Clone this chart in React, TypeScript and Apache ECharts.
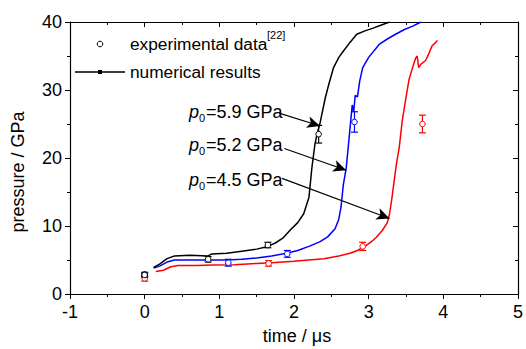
import React, { useEffect, useRef } from "react";
import * as echarts from "echarts";

const xTicks = [-1, 0, 1, 2, 3, 4, 5];
const yTicks = [0, 10, 20, 30, 40];

const blackSim: [number, number][] = [
  [0.12, 3.9], [0.2, 4.4], [0.3, 5.2], [0.4, 5.6], [0.6, 5.7], [0.85, 5.6], [0.9, 5.9], [1.1, 6.0],
  [1.3, 6.3], [1.5, 6.6], [1.65, 7.0], [1.75, 7.5], [1.85, 8.2], [1.95, 9.4], [2.05, 10.5], [2.13, 11.8],
  [2.2, 14.2], [2.24, 18.6], [2.28, 22.0], [2.31, 23.6], [2.35, 25.2], [2.42, 28.9], [2.47, 31.0],
  [2.53, 33.3], [2.6, 34.8], [2.66, 35.7], [2.75, 37.0], [2.84, 38.2], [2.95, 38.7], [3.06, 39.1],
  [3.18, 39.6], [3.28, 40.0]
];
const blueSim: [number, number][] = [
  [0.12, 3.8], [0.2, 4.1], [0.3, 4.7], [0.4, 5.0], [0.6, 5.0], [0.85, 5.0], [1.1, 5.0], [1.3, 5.1],
  [1.5, 5.3], [1.7, 5.6], [1.9, 6.0], [2.05, 6.4], [2.2, 7.0], [2.35, 7.7], [2.45, 8.4], [2.55, 9.6],
  [2.6, 11.0], [2.63, 12.8], [2.66, 16.0], [2.7, 18.6], [2.73, 22.0], [2.76, 25.5], [2.78, 27.8],
  [2.8, 26.8], [2.82, 29.2], [2.85, 29.0], [2.88, 31.3], [2.92, 33.3], [3.0, 34.8], [3.14, 36.7],
  [3.25, 37.5], [3.36, 38.2], [3.48, 38.9], [3.59, 39.4], [3.7, 40.0]
];
const redSim: [number, number][] = [
  [0.15, 3.3], [0.25, 3.5], [0.35, 4.0], [0.45, 4.2], [0.7, 4.2], [0.9, 4.25], [1.2, 4.3], [1.5, 4.5],
  [1.7, 4.6], [2.0, 4.8], [2.2, 5.0], [2.4, 5.2], [2.6, 5.6], [2.75, 6.0], [2.85, 6.4], [2.95, 7.0],
  [3.05, 7.8], [3.1, 8.3], [3.18, 9.3], [3.25, 10.5], [3.28, 11.8], [3.31, 14.0], [3.34, 16.5],
  [3.37, 19.0], [3.41, 21.6], [3.45, 25.5], [3.5, 28.9], [3.54, 31.5], [3.58, 33.0], [3.63, 34.7],
  [3.65, 35.0], [3.67, 33.3], [3.7, 33.8], [3.76, 34.3], [3.8, 35.2], [3.85, 36.5], [3.9, 37.0],
  [3.92, 37.3]
];

// [time, pressure, error]
const blackExp: [number, number, number][] = [[0, 2.8, 0.3], [0.85, 5.1, 0.4], [1.65, 7.2, 0.4], [2.33, 23.5, 1.3]];
const blueExp: [number, number, number][] = [[0, 2.9, 0.3], [1.12, 4.6, 0.5], [1.91, 5.9, 0.5], [2.81, 25.3, 1.5]];
const redExp: [number, number, number][] = [[0, 2.3, 0.4], [1.66, 4.5, 0.4], [2.92, 7.0, 0.6], [3.72, 25.0, 1.3]];

const annotations = [
  { label: "=5.9 GPa", from: [1.8, 26.6], to: [2.35, 24.7] },
  { label: "=5.2 GPa", from: [1.87, 21.4], to: [2.7, 18.2] },
  { label: "=4.5 GPa", from: [1.84, 17.0], to: [3.28, 11.1] }
];

const FONT = "'Liberation Sans', Arial, sans-serif";

function errSeries(data: [number, number, number][], color: string) {
  return {
    type: "custom",
    xAxisIndex: 0,
    yAxisIndex: 0,
    data,
    z: 5,
    renderItem: (params: any, api: any) => {
      const x = api.value(0), y = api.value(1), e = api.value(2);
      const c = api.coord([x, y]);
      const hi = api.coord([x, y + e]);
      const lo = api.coord([x, y - e]);
      const w = 3.5;
      const ls = { stroke: color, lineWidth: 1.2 };
      return {
        type: "group",
        children: [
          { type: "line", shape: { x1: c[0], y1: hi[1], x2: c[0], y2: lo[1] }, style: ls },
          { type: "line", shape: { x1: c[0] - w, y1: hi[1], x2: c[0] + w, y2: hi[1] }, style: ls },
          { type: "line", shape: { x1: c[0] - w, y1: lo[1], x2: c[0] + w, y2: lo[1] }, style: ls },
          { type: "circle", shape: { cx: c[0], cy: c[1], r: 2.8 }, style: { fill: "#fff", stroke: color, lineWidth: 1 } }
        ]
      };
    }
  };
}

function lineSeries(data: [number, number][], color: string, extra: any = {}) {
  return {
    type: "line",
    xAxisIndex: 0,
    yAxisIndex: 0,
    data,
    showSymbol: false,
    symbol: "none",
    lineStyle: { color, width: 1.5 },
    itemStyle: { color },
    z: 3,
    ...extra
  };
}

export default function App() {
  const ref = useRef<HTMLDivElement>(null);
  useEffect(() => {
    if (!ref.current) return;
    const chart = echarts.init(ref.current, null, { renderer: "svg" });
    const axisCommon = {
      type: "value",
      axisLine: { show: true, onZero: false, lineStyle: { color: "#000", width: 1.2 } },
      splitLine: { show: false },
      minorTick: { show: true, splitNumber: 2, length: 3, lineStyle: { color: "#000", width: 1 } }
    };
    const annGraphics: any[] = [];
    const annY = [112, 145, 180];
    annotations.forEach((a, i) => {
      annGraphics.push(
        { type: "text", x: 189, y: annY[i], style: { text: "p", font: `italic 18px ${FONT}`, fill: "#000", verticalAlign: "middle" } },
        { type: "text", x: 199, y: annY[i] + 6, style: { text: "0", font: `11px ${FONT}`, fill: "#000", verticalAlign: "middle" } },
        { type: "text", x: 206, y: annY[i], style: { text: a.label, font: `18px ${FONT}`, fill: "#000", verticalAlign: "middle" } }
      );
    });
    const option: any = {
      animation: false,
      grid: { left: 70, right: 2, top: 22, bottom: 55, containLabel: false },
      xAxis: [
        {
          ...axisCommon,
          position: "bottom",
          min: -1, max: 5, interval: 1,
          axisTick: { show: true, inside: false, length: 5, lineStyle: { color: "#000", width: 1 } },
          axisLabel: { color: "#000", fontSize: 18, fontFamily: FONT, margin: 9 }
        },
        {
          ...axisCommon,
          position: "top",
          min: -1, max: 5, interval: 1,
          axisTick: { show: true, inside: true, length: 5, lineStyle: { color: "#000", width: 1 } },
          axisLabel: { show: false }
        }
      ],
      yAxis: [
        {
          ...axisCommon,
          position: "left",
          min: 0, max: 40, interval: 10,
          axisTick: { show: true, inside: false, length: 5, lineStyle: { color: "#000", width: 1 } },
          axisLabel: { color: "#000", fontSize: 18, fontFamily: FONT, margin: 8 }
        },
        {
          ...axisCommon,
          position: "right",
          min: 0, max: 40, interval: 10,
          axisTick: { show: true, inside: true, length: 5, lineStyle: { color: "#000", width: 1 } },
          axisLabel: { show: false }
        }
      ],
      series: [
        lineSeries(redSim, "#ff0000"),
        lineSeries(blueSim, "#0000ff"),
        lineSeries(blackSim, "#000000", {
          markLine: {
            silent: true,
            symbol: ["none", "arrow"],
            symbolSize: [9, 13],
            label: { show: false },
            lineStyle: { color: "#000", width: 1.2, type: "solid" },
            data: annotations.map((a) => [{ coord: a.from }, { coord: a.to }])
          }
        }),
        errSeries(redExp, "#ff0000"),
        errSeries(blueExp, "#0000ff"),
        errSeries(blackExp, "#000000")
      ],
      graphic: [
        { type: "circle", shape: { cx: 100, cy: 44, r: 2.8 }, style: { fill: "#fff", stroke: "#000", lineWidth: 1 } },
        { type: "text", x: 130, y: 44, style: { text: "experimental data", font: `17.3px ${FONT}`, fill: "#000", verticalAlign: "middle" } },
        { type: "text", x: 267, y: 35, style: { text: "[22]", font: `11px ${FONT}`, fill: "#000", verticalAlign: "middle" } },
        { type: "line", shape: { x1: 75, y1: 72, x2: 125, y2: 72 }, style: { stroke: "#000", lineWidth: 1.5 } },
        { type: "rect", shape: { x: 98, y: 70, width: 4, height: 4 }, style: { fill: "#000" } },
        { type: "text", x: 130, y: 72, style: { text: "numerical results", font: `17.3px ${FONT}`, fill: "#000", verticalAlign: "middle" } },
        { type: "text", x: 297, y: 336, style: { text: "time / μs", font: `18px ${FONT}`, fill: "#000", align: "center", verticalAlign: "middle" } },
        { type: "text", x: 18, y: 172, rotation: Math.PI / 2, style: { text: "pressure / GPa", font: `18px ${FONT}`, fill: "#000", align: "center", verticalAlign: "middle" } },
        ...annGraphics
      ]
    };
    chart.setOption(option);
    return () => chart.dispose();
  }, []);
  return <div ref={ref} style={{ position: "absolute", left: 0, top: 0, width: 526, height: 349 }} />;
}
